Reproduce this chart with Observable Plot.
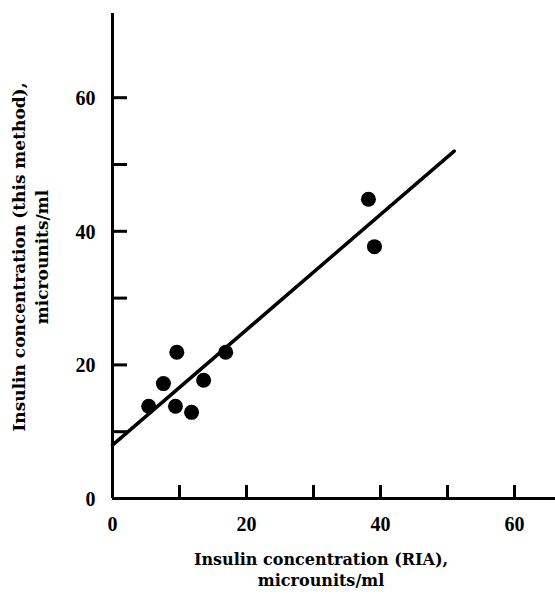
<!DOCTYPE html>
<html>
<head>
<meta charset="utf-8">
<script src="https://cdn.jsdelivr.net/npm/d3@7"></script>
<script src="https://cdn.jsdelivr.net/npm/@observablehq/plot@0.6"></script>
<style>
  html, body { margin: 0; padding: 0; background: #fff; }
  #chart svg { display: block; }
</style>
</head>
<body>
<div id="chart"></div>
<script>
// Data
const riaValues = [5.4, 7.6, 9.6, 9.4, 11.8, 13.6, 16.9, 38.2, 39.1];
const methodValues = [13.8, 17.2, 21.9, 13.8, 12.9, 17.7, 21.9, 44.8, 37.7];
const fitX = [0, 51];
const fitY = [8, 52];
const xTickValues = [10, 20, 30, 40, 50, 60];
const yTickValues = [10, 20, 30, 40, 50, 60];
const xTickLabels = [0, 20, 40, 60];
const yTickLabels = [0, 20, 40, 60];
const xLabel = "Insulin concentration (RIA),\nmicrounits/ml";
const yLabel = "Insulin concentration (this method),\nmicrounits/ml";

const points = riaValues.map((x, i) => ({x, y: methodValues[i]}));
const fit = fitX.map((x, i) => ({x, y: fitY[i]}));

const font = "'Liberation Serif', 'DejaVu Serif', serif";
const titleFont = "'DejaVu Serif', 'Liberation Serif', serif";
const xPerPx = 1 / 6.7, yPerPx = 1 / 6.68;

const chart = Plot.plot({
  width: 555,
  height: 595,
  marginLeft: 112,
  marginRight: 0,
  marginTop: 13,
  marginBottom: 97,
  style: {fontFamily: font, background: "#fff", color: "#000"},
  x: {domain: [0, 443 * xPerPx], axis: null},
  y: {domain: [0, 485 * yPerPx], axis: null},
  marks: [
    // axis lines
    Plot.ruleY([0], {x1: 0, x2: 443 * xPerPx, stroke: "#000", strokeWidth: 3}),
    Plot.ruleX([0], {y1: 0, y2: 485 * yPerPx, stroke: "#000", strokeWidth: 3}),
    // inward ticks
    Plot.ruleX(xTickValues, {x: d => d, y1: 0, y2: 13 * yPerPx, stroke: "#000", strokeWidth: 3}),
    Plot.ruleY(yTickValues, {y: d => d, x1: 0, x2: 15 * xPerPx, stroke: "#000", strokeWidth: 3}),
    // tick labels
    Plot.text(xTickLabels, {x: d => d, y: 0, text: d => String(d), dy: 26, fontSize: 20, fontWeight: "bold", fill: "#000", textAnchor: "middle"}),
    Plot.text(yTickLabels, {x: 0, y: d => d, text: d => String(d), dx: -17, dy: 1, fontSize: 20, fontWeight: "bold", fill: "#000", textAnchor: "end"}),
    // regression line
    Plot.line(fit, {x: "x", y: "y", stroke: "#000", strokeWidth: 3.5}),
    // points
    Plot.dot(points, {x: "x", y: "y", r: 7.5, fill: "#000", stroke: "none"}),
    // axis titles
    Plot.text([xLabel], {frameAnchor: "bottom", text: d => d, dx: -13, dy: 52, lineAnchor: "top", lineHeight: 1.3, fontFamily: titleFont, fontSize: 16, fontWeight: "bold", fill: "#000", textAnchor: "middle"}),
    Plot.text([yLabel], {frameAnchor: "left", text: d => d, rotate: -90, dx: -83, dy: 1, lineAnchor: "middle", lineHeight: 1.35, fontFamily: titleFont, fontSize: 17, fontWeight: "bold", fill: "#000", textAnchor: "middle"})
  ]
});
document.getElementById("chart").appendChild(chart);
</script>
</body>
</html>
